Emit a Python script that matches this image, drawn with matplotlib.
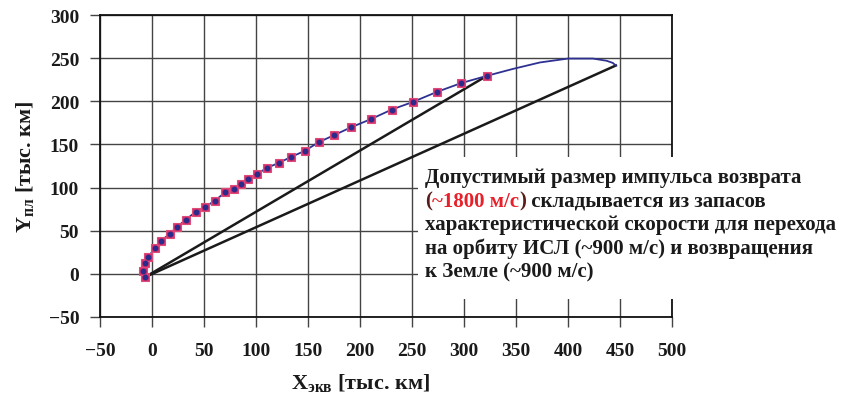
import matplotlib
matplotlib.use('Agg')
import matplotlib.pyplot as plt
from matplotlib.patches import Rectangle
from matplotlib.text import Annotation

plt.rcParams['font.family'] = ['Liberation Serif', 'DejaVu Serif']
plt.rcParams['mathtext.fontset'] = 'custom'
plt.rcParams['mathtext.rm'] = 'Liberation Serif'
plt.rcParams['mathtext.bf'] = 'Liberation Serif:bold'

# trajectory points with markers, thousand km
traj_x = [-6.7, -8.3, -6.7, -3.5, 2.9, 8.3, 17.3, 23.7, 32.7, 42.3, 51.0, 60.3,
          70.5, 78.5, 85.6, 92.6, 101.0, 110.6, 121.8, 134.0, 146.8, 160.3,
          175.0, 191.7, 210.3, 230.5, 251.0, 274.0, 297.1, 322.0]
traj_y = [-3.8, 3.8, 12.7, 20.0, 29.8, 37.9, 46.7, 54.1, 62.9, 72.2, 77.6, 84.6,
          94.7, 98.5, 103.9, 110.0, 115.9, 122.8, 128.6, 135.6, 142.5, 152.6,
          160.7, 170.0, 179.2, 190.4, 199.3, 210.9, 221.0, 229.5]

# rest of the trajectory without markers
tail_x = [322.0, 347.0, 373.0, 400.0, 424.0, 437.0, 443.0, 446.0]
tail_y = [229.5, 237.5, 245.0, 249.5, 249.5, 247.0, 244.5, 241.5]

xticks = [-50, 0, 50, 100, 150, 200, 250, 300, 350, 400, 450, 500]
yticks = [-50, 0, 50, 100, 150, 200, 250, 300]

note_lines = [
    'Допустимый размер импульса возврата',
    None,
    'характеристической скорости для перехода',
    'на орбиту ИСЛ (~900 м/с) и возвращения',
    'к Земле (~900 м/с)',
]
# second line of the note: (text, colour)
note_parts = [('(', '#5a1a1a'), ('~1800 м/с', '#e8202a'), (')', '#5a1a1a'),
              (' складывается из запасов', '#1a1a1a')]

fig = plt.figure(figsize=(8.48, 4.02), dpi=100)
ax = fig.add_axes([100 / 848, 84 / 402, 572 / 848, 302 / 402])

ax.plot(traj_x + tail_x[1:], traj_y + tail_y[1:], color='#2e3192', lw=1.3, zorder=3)
ax.plot(traj_x, traj_y, ls='none', marker='s', ms=6, mfc='#d8306a', mec='#e04a78',
        mew=0.8, zorder=4)
ax.plot(traj_x, traj_y, ls='none', marker='o', ms=3.2, color='#2b2b8c', zorder=5)

# straight transfer lines from the start point
ax.plot([traj_x[0], traj_x[-1]], [traj_y[0], traj_y[-1]], color='#1a1a1a', lw=1.8, zorder=2)
ax.plot([traj_x[0], tail_x[-1]], [traj_y[0], tail_y[-1]], color='#1a1a1a', lw=1.8, zorder=2)

ax.set_xlim(-50, 500)
ax.set_ylim(-50, 300)
ax.set_xticks(xticks)
ax.set_yticks(yticks)
ax.grid(True, color='#444444', lw=1.0)
ax.set_axisbelow(True)
for s in ax.spines.values():
    s.set_color('#111111')
    s.set_linewidth(1.3)
ax.tick_params(direction='out', length=7, width=1.0, color='#444444',
               labelsize=14, labelcolor='#1a1a1a')
for lab in ax.get_xticklabels() + ax.get_yticklabels():
    lab.set_fontweight('bold')
ax.tick_params(axis='y', pad=8)
ax.tick_params(axis='x', pad=11)

ax.set_xlabel(r'$\mathbf{X}_{\mathbf{экв}}$ [тыс. км]', fontsize=16, fontweight='bold',
              color='#1a1a1a')
ax.xaxis.set_label_coords((360 - 100) / 572, -0.18)
ax.set_ylabel(r'$\mathbf{Y}_{\mathbf{пл}}$ [тыс. км]', fontsize=16, fontweight='bold',
              color='#1a1a1a')
ax.yaxis.set_label_coords(-0.11, 0.5)

# white panel behind the note
fig.patches.append(Rectangle((418 / 848, 102 / 402), 430 / 848, 142 / 402,
                             transform=fig.transFigure, facecolor='white',
                             edgecolor='none', zorder=5))

x0 = 425 / 848
base = 183
step = 23.7
for i, line in enumerate(note_lines):
    y = 1 - (base + i * step) / 402
    if line is not None:
        fig.text(x0, y, line, fontsize=15, fontweight='bold', color='#1a1a1a',
                 va='baseline', zorder=6)
        continue
    txt, col = note_parts[0]
    prev = fig.text(x0, y, txt, fontsize=15, fontweight='bold', color=col,
                    va='baseline', zorder=6)
    for txt, col in note_parts[1:]:
        a = Annotation(txt, xy=(1, 0), xycoords=prev, va='bottom', fontsize=15,
                       fontweight='bold', color=col, annotation_clip=False)
        a.set_zorder(6)
        fig.add_artist(a)
        prev = a

fig.savefig('out.png', dpi=100)
